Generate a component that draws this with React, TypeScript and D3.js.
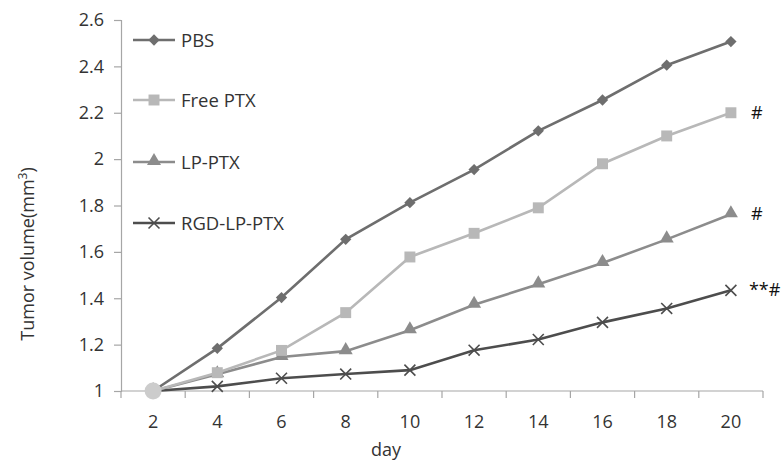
import { useEffect, useRef } from "react";
import * as d3 from "d3";

// Données
const days = ["2", "4", "6", "8", "10", "12", "14", "16", "18", "20"];
const pbs = [1.0, 1.184, 1.403, 1.654, 1.812, 1.955, 2.122, 2.255, 2.405, 2.507];
const freePtx = [1.0, 1.079, 1.175, 1.338, 1.578, 1.68, 1.79, 1.98, 2.1, 2.2];
const lpPtx = [1.0, 1.072, 1.147, 1.172, 1.262, 1.372, 1.46, 1.552, 1.654, 1.762];
const rgdLpPtx = [1.0, 1.02, 1.055, 1.073, 1.09, 1.176, 1.222, 1.296, 1.356, 1.434];
const seriesNames = ["PBS", "Free PTX", "LP-PTX", "RGD-LP-PTX"];
const seriesColors = ["#6e6e6e", "#b8b8b8", "#8c8c8c", "#4d4d4d"];
const seriesSymbols = ["diamond", "square", "triangle", "cross"];
const notes = ["", "#", "#", "**#"];
const yTicks = [1, 1.2, 1.4, 1.6, 1.8, 2, 2.2, 2.4, 2.6];

const FONT = "'Open Sans', 'DejaVu Sans', sans-serif";

export default function App() {
  const svgRef = useRef<SVGSVGElement>(null);

  useEffect(() => {
    if (!svgRef.current) return;
    const svg = d3.select(svgRef.current);
    svg.selectAll("*").remove();

    const width = 781;
    const height = 461;
    const left = 121;
    const right = 763;
    const top = 20;
    const bottom = 391;

    const values = [pbs, freePtx, lpPtx, rgdLpPtx];

    const x = d3.scaleBand<string>().domain(days).range([left, right]);
    const y = d3.scaleLinear().domain([1, 2.6]).range([bottom, top]);
    const cx = (d: string) => (x(d) ?? 0) + x.bandwidth() / 2;

    svg.attr("width", width).attr("height", height);

    // Axe Y
    const yAxis = svg.append("g").attr("transform", `translate(${left},0)`)
      .call(d3.axisLeft(y).tickValues(yTicks).tickSize(7).tickPadding(10)
        .tickFormat((d) => String(+d)));
    yAxis.select(".domain").attr("stroke", "#a6a6a6").attr("stroke-width", 1.2);
    yAxis.selectAll(".tick line").attr("stroke", "#a6a6a6").attr("stroke-width", 1.2);
    yAxis.selectAll(".tick text").attr("fill", "#333").style("font-family", FONT).style("font-size", "18px");

    // Axe X (ticks entre les catégories)
    const xAxis = svg.append("g").attr("transform", `translate(0,${bottom})`);
    xAxis.append("line").attr("x1", left).attr("x2", right).attr("stroke", "#a6a6a6").attr("stroke-width", 1.2);
    const boundaries = days.map((d) => x(d) ?? 0).concat([right]);
    xAxis.selectAll("line.tk").data(boundaries).enter().append("line")
      .attr("class", "tk").attr("x1", (d) => d).attr("x2", (d) => d)
      .attr("y1", 0).attr("y2", 7).attr("stroke", "#a6a6a6").attr("stroke-width", 1.2);
    xAxis.selectAll("text").data(days).enter().append("text")
      .attr("x", (d) => cx(d)).attr("y", 37).attr("text-anchor", "middle")
      .attr("fill", "#333").style("font-family", FONT).style("font-size", "18px")
      .text((d) => d);

    // Titres des axes
    svg.append("text").attr("x", 386).attr("y", 456).attr("text-anchor", "middle")
      .attr("fill", "#333").style("font-family", FONT).style("font-size", "18px").text("day");
    const yl = svg.append("text").attr("transform", `translate(34,${254}) rotate(-90)`)
      .attr("text-anchor", "middle").attr("fill", "#333")
      .style("font-family", FONT).style("font-size", "18px");
    yl.append("tspan").text("Tumor volume(mm");
    yl.append("tspan").attr("dy", -7).style("font-size", "12px").text("3");
    yl.append("tspan").attr("dy", 7).text(")");

    const drawMarker = (g: d3.Selection<SVGGElement, unknown, null, undefined>, s: string, color: string, px: number, py: number) => {
      if (s === "diamond") {
        g.append("path").attr("d", d3.symbol().type(d3.symbolSquare).size(64)() || "")
          .attr("transform", `translate(${px},${py}) rotate(45)`).attr("fill", color);
      } else if (s === "square") {
        g.append("path").attr("d", d3.symbol().type(d3.symbolSquare).size(120)() || "")
          .attr("transform", `translate(${px},${py})`).attr("fill", color);
      } else if (s === "triangle") {
        g.append("path").attr("d", d3.symbol().type(d3.symbolTriangle).size(85)() || "")
          .attr("transform", `translate(${px},${py - 1})`).attr("fill", color);
      } else {
        g.append("path").attr("d", d3.symbol().type(d3.symbolX).size(80)() || "")
          .attr("transform", `translate(${px},${py})`).attr("fill", "none")
          .attr("stroke", color).attr("stroke-width", 1.6);
      }
    };

    const line = d3.line<number>().x((_d, i) => cx(days[i])).y((d) => y(d));

    // Lignes + marqueurs (ordre inverse pour que PBS soit dessus)
    [3, 2, 1, 0].forEach((k) => {
      const g = svg.append("g");
      g.append("path").attr("d", line(values[k]) || "").attr("fill", "none")
        .attr("stroke", seriesColors[k]).attr("stroke-width", 2.6);
      values[k].forEach((v, i) => drawMarker(g, seriesSymbols[k], seriesColors[k], cx(days[i]), y(v)));
    });

    // Point de départ commun (cercle clair)
    svg.append("circle").attr("cx", cx(days[0])).attr("cy", y(freePtx[0])).attr("r", 8.5).attr("fill", "#cccccc");

    // Annotations de significativité
    notes.forEach((n, k) => {
      if (!n) return;
      const last = values[k].length - 1;
      svg.append("text").attr("x", cx(days[last]) + (n.length > 1 ? 18 : 20))
        .attr("y", y(values[k][last]) + 6).attr("fill", "#111")
        .style("font-family", FONT).style("font-size", "18px").text(n);
    });

    // Légende
    const legendY = [40, 100, 162, 223];
    seriesNames.forEach((name, k) => {
      const g = svg.append("g");
      g.append("line").attr("x1", 133).attr("x2", 175).attr("y1", legendY[k]).attr("y2", legendY[k])
        .attr("stroke", seriesColors[k]).attr("stroke-width", 2.6);
      drawMarker(g, seriesSymbols[k], seriesColors[k], 154, legendY[k]);
      g.append("text").attr("x", 181).attr("y", legendY[k] + 7).attr("fill", "#333")
        .style("font-family", FONT).style("font-size", "18.5px").text(name);
    });
  }, []);

  return <svg ref={svgRef} style={{ display: "block", position: "absolute", left: 0, top: 0 }} />;
}
